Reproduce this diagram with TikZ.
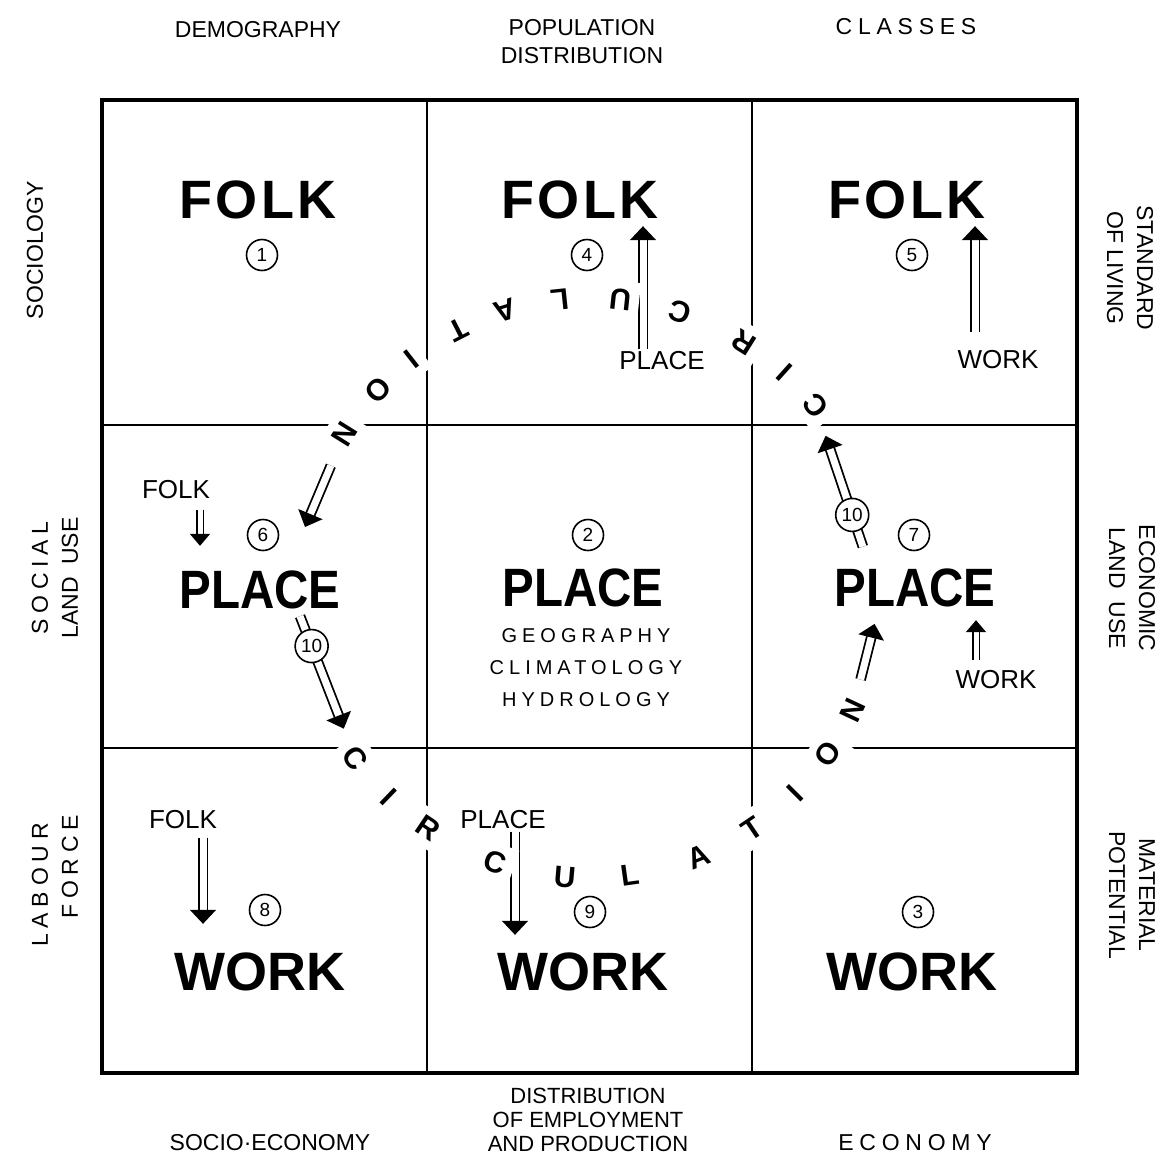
\documentclass[tikz,border=0pt]{standalone}
\usepackage{fontspec}
\setmainfont{Liberation Sans}
\usetikzlibrary{arrows.meta, positioning}
\newcommand{\wide}{\addfontfeature{LetterSpace=25}}
\newcommand{\narrowword}[1]{\scalebox{0.88}[1]{#1}}

\begin{document}
\begin{tikzpicture}[x=0.5pt, y=-0.5pt,
  big/.style={font=\bfseries\fontsize{27}{27}\selectfont},
  lbl/.style={font=\fontsize{13}{13}\selectfont, inner sep=1pt},
  side/.style={font=\fontsize{11.5}{14}\selectfont, align=center, inner sep=0pt},
  sci/.style={font=\fontsize{10}{10}\selectfont\wide, inner sep=0pt},
  num/.style={circle, draw, thick, fill=white, inner sep=0pt, minimum size=15.5pt,
              font=\fontsize{9.5}{9.5}\selectfont},
  circ/.style={fill=white, inner sep=4pt, font=\bfseries\fontsize{15}{15}\selectfont},
  flow/.style={draw=black, line width=0.9pt, double=white, double distance=3.5pt,
               -{Triangle[length=7pt, width=13pt]}},
  thin flow/.style={flow, double distance=2.5pt, -{Triangle[length=6pt, width=10pt]}}
]
\useasboundingbox (0,0) rectangle (1167,1158);
\fill[white] (0,0) rectangle (1167,1158);

% the grid
\draw[line width=2pt] (102,100) rectangle (1077,1073);
\draw[line width=1pt] (427,100) -- (427,1073) (752,100) -- (752,1073)
  (102,425) -- (1077,425) (102,748) -- (1077,748);

% headings round the square
\node[side] (demog) at (258,30) {DEMOGRAPHY};
\node[side] (popdist) at (582,42) {POPULATION\\DISTRIBUTION};
\node[side, font=\fontsize{11.5}{14}\selectfont\wide] (classes) at (906,27) {CLASSES};
\node[side] (socioec) at (270,1143) {SOCIO·ECONOMY};
\node[side, font=\fontsize{11}{11.8}\selectfont] (distemp) at (588,1120) {DISTRIBUTION\\OF EMPLOYMENT\\AND PRODUCTION};
\node[side, font=\fontsize{11.5}{14}\selectfont\wide] (econ) at (915,1143) {ECONOMY};
\node[side, rotate=90] (sociol) at (35,250) {SOCIOLOGY};
\node[side, rotate=90, font=\fontsize{11.5}{15}\selectfont] (socland) at (55,578) {{\wide SOCIAL}\\LAND\ \ USE};
\node[side, rotate=90, font=\fontsize{11.5}{15}\selectfont\wide] (labour) at (55,885) {LABOUR\\\ \ \ FORCE};
\node[side, rotate=-90, font=\fontsize{11.5}{15}\selectfont] (stand) at (1130,268) {STANDARD\\OF LIVING};
\node[side, rotate=-90, font=\fontsize{11.5}{15}\selectfont] (econland) at (1132,588) {ECONOMIC\\LAND\ \ USE};
\node[side, rotate=-90, font=\fontsize{11.5}{15}\selectfont] (matpot) at (1132,895) {MATERIAL\\POTENTIAL};

% top row
\node[big] (folk1) at (258,200) {\addfontfeature{LetterSpace=6}FOLK};
\node[num] (n1) at (262,255) {1};
\node[big] (folk4) at (580,200) {\addfontfeature{LetterSpace=6}FOLK};
\node[num] (n4) at (587,255) {4};
\node[lbl] (place4) at (662,361) {PLACE};
\node[big] (folk5) at (907,200) {\addfontfeature{LetterSpace=6}FOLK};
\node[num] (n5) at (912,255) {5};
\node[lbl] (work5) at (998,360) {WORK};

% middle row
\node[lbl] (folk6) at (176,490) {FOLK};
\node[num] (n6) at (263,535) {6};
\node[big] (place6) at (260,590) {\narrowword{PLACE}};
\node[num] (n2) at (588,535) {2};
\node[big] (place2) at (583,588) {\narrowword{PLACE}};
\node[sci] (geog) at (586,636) {GEOGRAPHY};
\node[sci] (clim) at (586,668) {CLIMATOLOGY};
\node[sci] (hydro) at (586,700) {HYDROLOGY};
\node[num] (n7) at (914,535) {7};
\node[big] (place7) at (915,588) {\narrowword{PLACE}};
\node[lbl] (work7) at (996,680) {WORK};

% bottom row
\node[lbl] (folk8) at (183,820) {FOLK};
\node[num] (n8) at (265,910) {8};
\node[big] (work8) at (260,972) {WORK};
\node[lbl] (place9) at (503,820) {PLACE};
\node[num] (n9) at (590,912) {9};
\node[big] (work9) at (583,972) {WORK};
\node[num] (n3) at (918,912) {3};
\node[big] (work3) at (912,972) {WORK};

% straight flows inside the cells
\draw[flow] ([xshift=-9.5pt]place4.north) -- ([xshift=-9.5pt]place4.north |- folk4.south);
\draw[flow, shorten <=8pt] ([xshift=-11.5pt]work5.north) -- ([xshift=-11.5pt]work5.north |- folk5.south);
\draw[thin flow, shorten <=4pt, shorten >=9pt] ([xshift=12pt]folk6.south) -- ([xshift=12pt]folk6.south |- place6.north);
\draw[thin flow, shorten <=4pt, shorten >=3pt] ([xshift=-10pt]work7.north) -- ([xshift=-10pt]work7.north |- place7.south);
\draw[flow, shorten <=3pt, shorten >=11pt] ([xshift=10pt]folk8.south) -- ([xshift=10pt]folk8.south |- work8.north);
\draw[flow, shorten >=5.5pt] ([xshift=6pt]place9.south) -- ([xshift=6pt]place9.south |- work9.north);

% the circulation ring
\foreach \ch/\a in {C/216, I/226, R/236, C/251, U/265, L/278, A/292, T/304, I/315, O/325, N/335,
                    C/39, I/48, R/58, C/72, U/84, L/96, A/107, T/117, I/128, O/137, N/148}
  \node[circ, rotate=\a+90] (c\a) at ({590+290*cos(\a)},{588-290*sin(\a)}) {\ch};

% flows to and from the ring
\draw[flow, shorten <=17pt] (c148.center) -- (305,527);
\draw[flow, shorten >=16pt] ([xshift=20pt]place6.south) -- (c216.center)
  node[num, pos=0.21, minimum size=16.5pt] (n10a) {10};
\draw[flow, shorten <=8pt, shorten >=16pt] ([xshift=-23.5pt]place7.north) -- (c39.center)
  node[num, pos=0.3, minimum size=16.5pt] (n10b) {10};
\draw[flow, shorten <=16pt, shorten >=5pt] (c335.center) -- ([xshift=-19pt]place7.south);
\end{tikzpicture}
\end{document}
